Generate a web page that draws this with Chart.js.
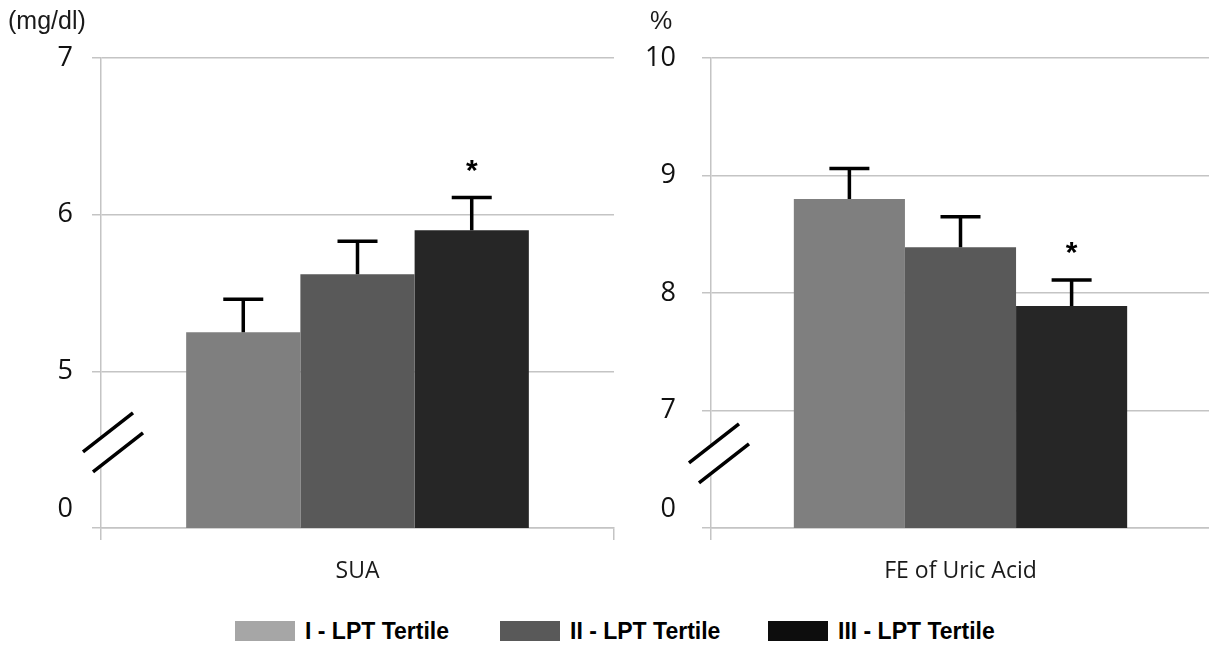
<!DOCTYPE html>
<html>
<head>
<meta charset="utf-8">
<script src="https://cdn.jsdelivr.net/npm/chart.js@4.4.0/dist/chart.umd.min.js"></script>
<style>
  body { margin: 0; background: #fff; width: 1209px; height: 649px; position: relative; overflow: hidden; }
  #left { position: absolute; left: 0; top: 0; }
  #right { position: absolute; left: 620px; top: 0; }
  #legend { position: absolute; top: 619px; left: 0; width: 1209px; font: bold 23px "Liberation Sans", Arial, sans-serif; color: #000; }
  .item { position: absolute; top: 0; height: 24px; line-height: 24px; white-space: nowrap; }
  .sw { display: inline-block; width: 60px; height: 20px; vertical-align: top; margin-top: 2px; margin-right: 10px; }
</style>
</head>
<body>
<canvas id="left" width="620" height="600"></canvas>
<canvas id="right" width="590" height="600"></canvas>
<div id="legend"></div>
<script>
// data
const tertiles = ["I - LPT Tertile", "II - LPT Tertile", "III - LPT Tertile"];
const suaCategory = ["SUA"];
const suaMeans = [5.25, 5.62, 5.90];
const suaErrors = [0.21, 0.21, 0.21];
const suaMarks = ["", "", "*"];
const feCategory = ["FE of Uric Acid"];
const feMeans = [8.80, 8.39, 7.89];
const feErrors = [0.26, 0.26, 0.22];
const feMarks = ["", "", "*"];

const barColors = ["#7f7f7f", "#595959", "#262626"];
const legendColors = ["#a6a6a6", "#595959", "#0d0d0d"];
const gridColor = "#c4c4c4";

// error bars + significance stars
const errorBars = {
  id: "errorBars",
  afterDatasetsDraw(chart, args, opts) {
    const ctx = chart.ctx;
    const y = chart.scales.y;
    ctx.save();
    chart.data.datasets.forEach((ds, i) => {
      const bar = chart.getDatasetMeta(i).data[0];
      const top = y.getPixelForValue(ds.data[0] + opts.errors[i]);
      ctx.strokeStyle = "#000";
      ctx.lineWidth = 3.5;
      ctx.beginPath();
      ctx.moveTo(bar.x, bar.y);
      ctx.lineTo(bar.x, top);
      ctx.moveTo(bar.x - 20, top);
      ctx.lineTo(bar.x + 20, top);
      ctx.stroke();
      if (opts.marks[i]) {
        ctx.fillStyle = "#000";
        ctx.font = "bold 30px 'Liberation Sans', Arial, sans-serif";
        ctx.textAlign = "center";
        ctx.textBaseline = "middle";
        ctx.fillText(opts.marks[i], bar.x, top - 26);
      }
    });
    ctx.restore();
  }
};

// axis break marks and unit label
const axisDecor = {
  id: "axisDecor",
  afterDraw(chart, args, opts) {
    const ctx = chart.ctx;
    const y = chart.scales.y;
    const ax = chart.chartArea.left;
    const by = y.getPixelForValue(opts.breakAt);
    ctx.save();
    // white gap over the axis line
    ctx.fillStyle = "#fff";
    ctx.beginPath();
    ctx.moveTo(ax + opts.dx - 25, by + 19.5);
    ctx.lineTo(ax + opts.dx + 25, by - 19.5);
    ctx.lineTo(ax + opts.dx + 35, by + 0.5);
    ctx.lineTo(ax + opts.dx - 15, by + 39.5);
    ctx.closePath();
    ctx.fill();
    ctx.strokeStyle = "#000";
    ctx.lineWidth = 3.5;
    ctx.beginPath();
    for (let k = 0; k < 2; k++) {
      const cx = ax + opts.dx + k * 10;
      const cy = by + k * 20;
      ctx.moveTo(cx - 25, cy + 19.5);
      ctx.lineTo(cx + 25, cy - 19.5);
    }
    ctx.stroke();
    ctx.fillStyle = "#1a1a1a";
    ctx.font = "25px 'Liberation Sans', Arial, sans-serif";
    ctx.textAlign = "left";
    ctx.textBaseline = "middle";
    ctx.fillText(opts.unit, opts.unitX, 22);
    ctx.restore();
  }
};

function makeChart(id, category, means, errors, marks, min, max, axisWidth, padRight, tickPad, decor) {
  return new Chart(document.getElementById(id), {
    type: "bar",
    data: {
      labels: category,
      datasets: tertiles.map((t, i) => ({
        label: t,
        data: [means[i]],
        backgroundColor: barColors[i],
        borderWidth: 0
      }))
    },
    options: {
      responsive: false,
      animation: false,
      categoryPercentage: 0.668,
      barPercentage: 1,
      layout: { padding: { top: 58, right: padRight, bottom: 0, left: 0 } },
      scales: {
        x: {
          afterFit: s => { s.height = 72; },
          grid: { offset: true, drawOnChartArea: false, tickLength: 12, color: gridColor, lineWidth: 1.5 },
          border: { color: gridColor, width: 1.5 },
          ticks: { padding: 18, color: "#1a1a1a", font: { family: "'Open Sans', sans-serif", size: 23 } }
        },
        y: {
          min: min,
          max: max,
          afterFit: s => { s.width = axisWidth; },
          grid: { color: gridColor, lineWidth: 1.5, tickLength: 9 },
          border: { color: gridColor, width: 1.5 },
          ticks: {
            stepSize: 1,
            padding: tickPad,
            color: "#111",
            font: { family: "'Open Sans', sans-serif", size: 27, lineHeight: 1.35 },
            callback: v => v === min ? ["0", ""] : String(v)
          }
        }
      },
      plugins: {
        legend: { display: false },
        tooltip: { enabled: false },
        errorBars: { errors: errors, marks: marks },
        axisDecor: decor
      }
    },
    plugins: [errorBars, axisDecor]
  });
}

makeChart("left", suaCategory, suaMeans, suaErrors, suaMarks, 4, 7, 101, 6, 19,
  { breakAt: 4.61, dx: 7, unit: "(mg/dl)", unitX: 8 });
makeChart("right", feCategory, feMeans, feErrors, feMarks, 6, 10, 91, 0, 26,
  { breakAt: 6.72, dx: 3, unit: "%", unitX: 30 });

// legend
const legendLeft = [235, 500, 768];
const legend = document.getElementById("legend");
tertiles.forEach((t, i) => {
  const item = document.createElement("div");
  item.className = "item";
  item.style.left = legendLeft[i] + "px";
  item.innerHTML = '<span class="sw" style="background:' + legendColors[i] + '"></span>' + t;
  legend.appendChild(item);
});
</script>
</body>
</html>
